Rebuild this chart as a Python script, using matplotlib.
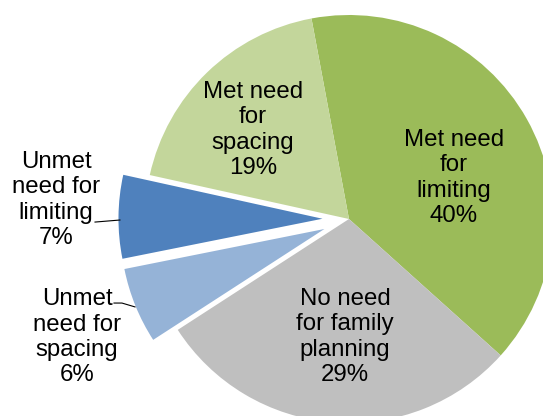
import numpy as np
import matplotlib.pyplot as plt

plt.rcParams['font.family'] = ['Liberation Sans', 'DejaVu Sans']

# slices in clockwise order, starting at the top
CATEGORIES = ["Met need\nfor\nlimiting", "No need\nfor family\nplanning",
              "Unmet\nneed for\nspacing", "Unmet\nneed for\nlimiting",
              "Met need\nfor\nspacing"]
VALUES = [39.6, 29.2, 6.0, 6.6, 18.6]
COLORS = ["#9BBB59", "#BFBFBF", "#95B3D7", "#4F81BD", "#C3D69B"]
EXPLODE = [0, 0, 0.13, 0.13, 0]

# label centres in pie units (radius = 1)
LABEL_POS = [(0.515, 0.20), (-0.02, -0.578), (-1.333, -0.58),
             (-1.436, 0.093), (-0.471, 0.436)]

W, H = 543, 416
DPI = 100
R_PX = 204
CX, CY = 349, 219

fig = plt.figure(figsize=(W / DPI, H / DPI), dpi=DPI)
ax = fig.add_axes([0, 0, 1, 1])

ax.pie(VALUES, colors=COLORS, explode=EXPLODE, startangle=100.6,
       counterclock=False, wedgeprops=dict(linewidth=0))

for cat, val, (x, y) in zip(CATEGORIES, VALUES, LABEL_POS):
    ax.text(x, y, f"{cat}\n{val:.0f}%", ha='center', va='center',
            fontsize=17.3, linespacing=1.2, color='black')

# leader lines for the exploded slices
ax.plot([-1.245, -1.123], [-0.015, -0.005], color='black', lw=0.8)
ax.plot([-1.152, -1.113, -1.049], [-0.412, -0.412, -0.431], color='black', lw=0.8)

ax.set_xlim(-CX / R_PX, (W - CX) / R_PX)
ax.set_ylim(-(H - CY) / R_PX, CY / R_PX)
ax.set_aspect('auto')
ax.axis('off')

plt.savefig("out.png", dpi=DPI)
plt.close()
